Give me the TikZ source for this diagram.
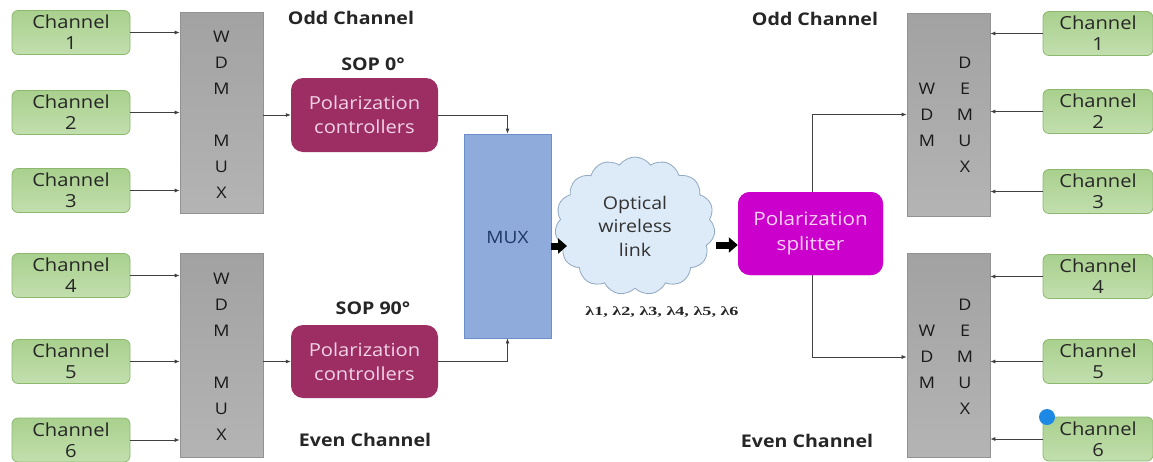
\documentclass[tikz,border=0pt]{standalone}
\usepackage{fontspec}
\setmainfont[FakeStretch=1.12]{Open Sans}
\newfontfamily\lamfont[FakeStretch=1.45]{Liberation Serif}
\usetikzlibrary{arrows.meta,shapes.symbols}
\definecolor{chfill}{HTML}{B2D59A}
\definecolor{chtop}{HTML}{A9D08E}
\definecolor{chbot}{HTML}{C2DFAE}
\definecolor{chdraw}{HTML}{8DB96F}
\definecolor{wdmtop}{HTML}{A2A2A2}
\definecolor{wdmbot}{HTML}{B4B4B4}
\definecolor{wdmdraw}{HTML}{929292}
\definecolor{pcfill}{HTML}{9C2E64}
\definecolor{pctext}{HTML}{F3D3E6}
\definecolor{muxfill}{HTML}{8FABDC}
\definecolor{muxdraw}{HTML}{6D8FC8}
\definecolor{muxtext}{HTML}{1F3864}
\definecolor{cloudfill}{HTML}{DDEAF7}
\definecolor{clouddraw}{HTML}{90A8C0}
\definecolor{spfill}{HTML}{CC00CC}
\definecolor{sptext}{HTML}{FAD0F4}
\definecolor{dotblue}{HTML}{1E88E5}
\tikzset{
  chbox/.style={draw=chdraw, line width=0.8pt, top color=chtop, bottom color=chbot, rounded corners=6pt,
    minimum width=118pt, minimum height=44pt, inner sep=0pt, align=center,
    font=\fontsize{18}{21}\selectfont, text=black!85},
  wdmbox/.style={draw=wdmdraw, line width=0.6pt, top color=wdmtop, bottom color=wdmbot, minimum width=83pt, inner sep=0pt},
  letters/.style={align=center, font=\fontsize{16}{26}\selectfont, text=black!90},
  pcbox/.style={fill=pcfill, rounded corners=12pt, minimum width=147pt, minimum height=74pt,
    inner sep=0pt, align=center, font=\fontsize{18}{24}\selectfont, text=pctext},
  spbox/.style={fill=spfill, rounded corners=12pt, minimum width=145pt, minimum height=83pt, inner sep=0pt,
    align=center, font=\fontsize{18.5}{25}\selectfont, text=sptext},
  lbl/.style={font=\bfseries\fontsize{17.5}{20}\selectfont, text=black!85},
  conn/.style={draw=black!75, line width=0.8pt, -{Latex[length=5pt,width=4pt]}},
  thick arrow/.style={draw=black, line width=7pt, -{Triangle[length=9pt,width=15pt]}},
}
\begin{document}
\begin{tikzpicture}[x=1pt,y=-1pt]
\useasboundingbox[fill=white] (0,0) rectangle (1153,461);

% left channel boxes
\node[chbox] (c1) at (71,32.5) {Channel\\1};
\node[chbox] (c2) at (71,112.5) {Channel\\2};
\node[chbox] (c3) at (71,190.5) {Channel\\3};
\node[chbox] (c4) at (71,275.5) {Channel\\4};
\node[chbox] (c5) at (71,361.5) {Channel\\5};
\node[chbox] (c6) at (71,440) {Channel\\6};

% WDM MUX blocks
\node[wdmbox, minimum height=201pt] (wm1) at (221.5,112.5) {};
\node[wdmbox, minimum height=204pt] (wm2) at (221.5,355) {};
\node[letters] (wl1) at (221.5,114.5) {W\\D\\M\\\mbox{}\\M\\U\\X};
\node[letters] (wl2) at (221.5,357) {W\\D\\M\\\mbox{}\\M\\U\\X};

\foreach \i in {1,2,3} \draw[conn] (c\i.east) -- (c\i.east -| wm1.west);
\foreach \i in {4,5,6} \draw[conn] (c\i.east) -- (c\i.east -| wm2.west);

% polarization controllers
\node[pcbox] (pc1) at (364.5,115) {Polarization\\controllers};
\node[pcbox, minimum height=73pt] (pc2) at (364.5,361.5) {Polarization\\controllers};
\draw[conn] (pc1.west -| wm1.east) -- (pc1.west);
\draw[conn] (pc2.west -| wm2.east) -- (pc2.west);

% labels
\node[lbl] (odd1) at (351,18) {Odd Channel};
\node[lbl] (sop0) at (373,64) {SOP 0\textdegree};
\node[lbl] (sop90) at (373,308) {SOP 90\textdegree};
\node[lbl] (even1) at (365,440) {Even Channel};
\node[lbl] (odd2) at (815,19) {Odd Channel};
\node[lbl] (even2) at (807,441) {Even Channel};

% MUX
\node[draw=muxdraw, line width=0.8pt, fill=muxfill, minimum width=87pt, minimum height=204pt,
  inner sep=0pt] (mux) at (507.5,236) {};
\node[font=\fontsize{17}{18}\selectfont, text=muxtext] (muxl) at (507.5,238) {MUX};
\draw[conn] (pc1.east) -| (mux.north);
\draw[conn] (pc2.east) -| (mux.south);

% cloud
\node[cloud, cloud puffs=15, cloud puff arc=110, aspect=1.15, draw=clouddraw, line width=0.8pt,
  fill=cloudfill, minimum width=160pt, minimum height=138pt, inner sep=0pt,
  align=center, font=\fontsize{17.5}{23.5}\selectfont, text=black!80] (cloud) at (635,226)
  {Optical\\wireless\\link};
\node[font=\lamfont\bfseries\fontsize{12.5}{14}\selectfont, text=black!85] (lam) at (662,312)
  {λ1, λ2, λ3, λ4, λ5, λ6};

% splitter connectors (drawn behind the splitter)
\coordinate (sptop) at (812,115);
\node[wdmbox, minimum height=203pt] (dm1) at (948.5,114.5) {};
\node[wdmbox, minimum height=204pt] (dm2) at (948.5,355) {};
\node[spbox] (sp) at (810.5,233.5) {};
\draw[conn] (sp.north -| sptop) |- (dm1.west);
\draw[conn] (sp.south -| sptop) |- (dm2.west |- 0,357);
\node[spbox] (sp2) at (810.5,233.5) {Polarization\\splitter};

\node[letters] (dw1) at (927,115) {W\\D\\M};
\node[letters] (dd1) at (965,115) {D\\E\\M\\U\\X};
\node[letters] (dw2) at (927,357) {W\\D\\M};
\node[letters] (dd2) at (965,357) {D\\E\\M\\U\\X};

% thick arrows
\draw[thick arrow] (mux.east |- 0,246) -- (567,246);
\draw[thick arrow] (716,245) -- (sp2.west |- 0,245);

% right channel boxes
\node[chbox, minimum width=110pt] (r1) at (1098,33.5) {Channel\\1};
\node[chbox, minimum width=110pt] (r2) at (1098,111.5) {Channel\\2};
\node[chbox, minimum width=110pt] (r3) at (1098,191.5) {Channel\\3};
\node[chbox, minimum width=110pt] (r4) at (1098,276.5) {Channel\\4};
\node[chbox, minimum width=110pt] (r5) at (1098,361.5) {Channel\\5};
\node[chbox, minimum width=110pt] (r6) at (1098,439) {Channel\\6};
\foreach \i in {1,2,3} \draw[conn] (r\i.west) -- (r\i.west -| dm1.east);
\foreach \i in {4,5,6} \draw[conn] (r\i.west) -- (r\i.west -| dm2.east);

\node[circle, fill=dotblue, minimum size=16pt, inner sep=0pt] (dot) at (1047,417) {};
\end{tikzpicture}
\end{document}
